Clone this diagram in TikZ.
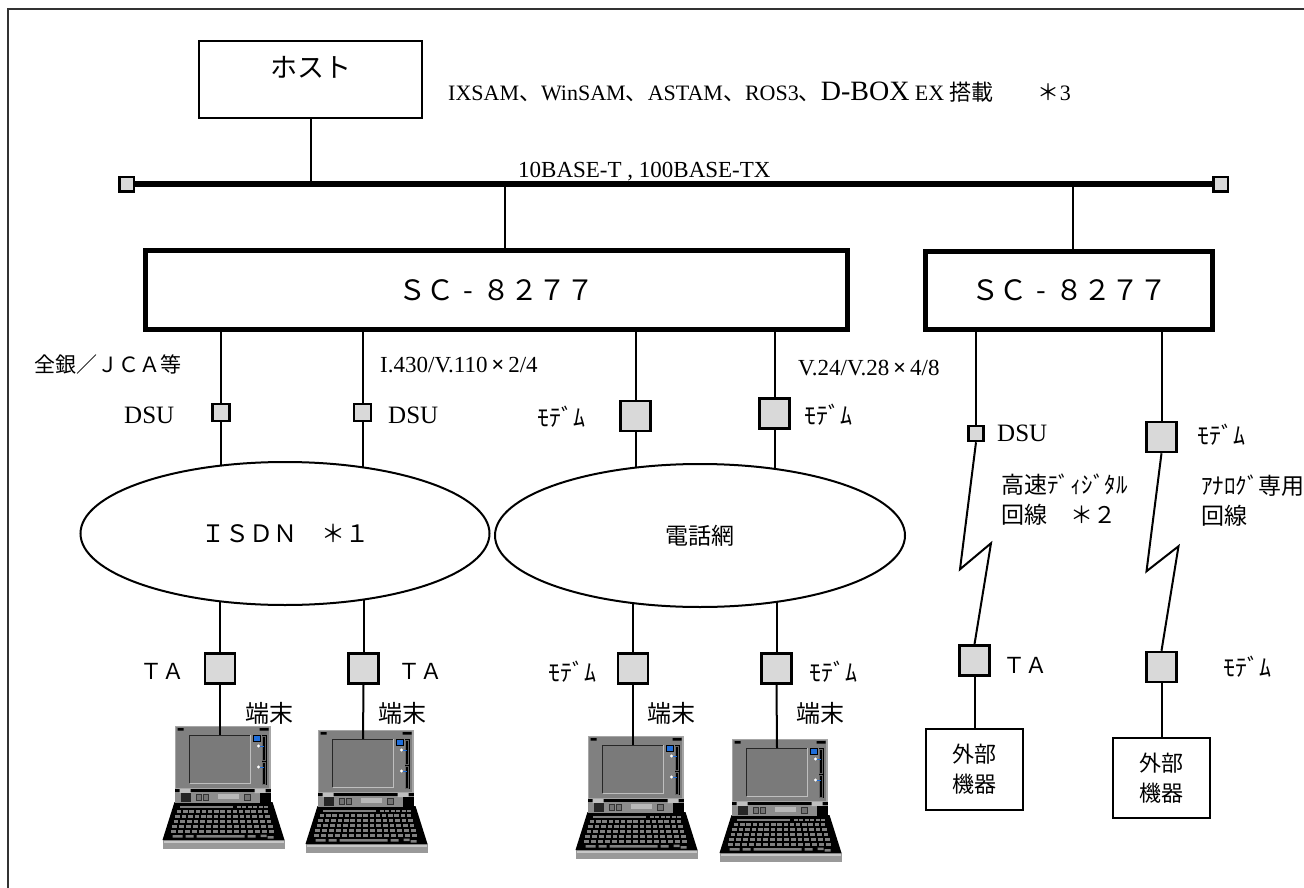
\documentclass[tikz,border=0pt]{standalone}
\usepackage{fontspec}
\setmainfont{Liberation Serif}
\newfontfamily\jfont{Noto Sans CJK JP}
\usetikzlibrary{positioning,shapes.geometric,backgrounds}
\newcommand{\jp}[1]{{\jfont #1}}
\definecolor{iconblue}{RGB}{30,110,220}

% laptop clip-art, origin at the top middle of the screen
\tikzset{
  laptop/.pic={
    \begin{scope}[shift={(-57.5,-9)}]
      % front edge
      \fill[black!40] (0,114) rectangle (122,123);
      \fill[black!22] (1,115) rectangle (121,117);
      % keyboard
      \fill[black] (12,76) -- (110,76) -- (122,114) -- (0,114) -- cycle;
      \fill[black!50] (17,79.5) rectangle (70,81.5);
      \foreach \k in {0,...,5}
        \fill[black!50] ({74+\k*5.5},79.5) rectangle +(4,2);
      \foreach \ky in {84,89,...,104} {
        \pgfmathsetmacro{\kl}{17-12*(\ky-76)/38}
        \pgfmathsetmacro{\kp}{(122-2*\kl)/15}
        \foreach \i in {0,...,14}
          \fill[black!50] ({\kl+\i*\kp},\ky) rectangle +({0.7*\kp},3);
      }
      \fill[black!50] (10,109) rectangle (20,111.5) (23,109) rectangle (31,111.5)
        (34,109) rectangle (82,111.5) (85,109) rectangle (93,111.5)
        (98,108.5) rectangle (104,111) (105,110) rectangle (111,112.5);
      % hinge
      \fill[black!45] (12,64) rectangle (108,77);
      \fill[black] (12,63) rectangle (108,66);
      \fill[black!25] (17,62) rectangle (28,67) (92,62) rectangle (103,67);
      \fill[black!85] (18,67) rectangle (28,76);
      \draw[black!80, fill=black!55] (34,68) rectangle (39,74) (41,68) rectangle (46,74)
        (82,68) rectangle (88,74);
      \fill[black!28] (55,68) rectangle (76,73);
      \fill[black] (97,67) rectangle (108,77);
      % lid
      \fill[black!50] (12,0) rectangle (108,63);
      \draw[black!35, line width=1.2pt] (12.6,0.6) rectangle (107.4,62.5);
      \fill[black] (15,2) rectangle (21,4.5) (97,2) rectangle (106,4.5);
      % screen
      \fill[black!52] (27,9) rectangle (88,57);
      \draw[black!85, line width=1pt] (27,57) -- (27,9) -- (88,9);
      \draw[black!25, line width=1pt] (88,9) -- (88,57) -- (27,57);
      % side controls
      \fill[black] (99,9) rectangle (104,59);
      \draw[black!60, line width=0.5pt] (100,10) rectangle (103,34) (100,36) rectangle (103,58);
      \draw[black, line width=0.6pt, fill=iconblue] (91,9) rectangle (98,15);
      \fill[white] (96,20) circle (1.6) (96,41) circle (1.6);
      \draw[iconblue, line width=0.8pt] (97.5,20) -- (101,20) (97.5,41) -- (101,41);
      \coordinate (-scr) at (57.5,9);
    \end{scope}
  }
}

\begin{document}
\begin{tikzpicture}[x=1pt, y=-1pt,
  every node/.style={inner sep=0pt},
  box/.style={draw, line width=2pt},
  scbox/.style={draw, line width=5pt, font=\jfont\fontsize{28}{30}\selectfont},
  port/.style={draw, fill=black!15, line width=2.5pt, minimum size=#1},
  cloud/.style={ellipse, draw, fill=white, line width=2pt},
  link/.style={line width=2pt},
  lbl/.style={anchor=west, font=\fontsize{22}{26}\selectfont},
  jlbl/.style={anchor=west, font=\jfont\fontsize{24}{30}\selectfont, align=left}]
\useasboundingbox (0,0) rectangle (1304,888);
\draw[line width=2pt, black!80] (8,888) -- (8,9) -- (1304,9);

% host and LAN
\node[box, minimum width=223, minimum height=77,
  label={[font=\jfont\fontsize{27}{30}\selectfont, anchor=center, yshift=-27pt]north:ホスト}]
  (host) at (310.5,79.5) {};
\node[lbl, anchor=base west] (soft) at (448,101)
  {IXSAM\jp{、}WinSAM\jp{、}ASTAM\jp{、}ROS3\jp{、}{\fontsize{28}{30}\selectfont D-BOX} EX \jp{搭載\hspace{2em}＊}3};
\node[port=14.5] (busl) at (126.5,184) {};
\node[port=14.5] (busr) at (1220.5,184) {};
\draw[line width=5.5pt] (busl) -- (busr);
\node[lbl, anchor=base west, font=\fontsize{23}{26}\selectfont] (lan) at (518,177) {10BASE-T , 100BASE-TX};
\coordinate (tap1) at (505,184);
\coordinate (tap2) at (1073,184);

% controllers
\node[scbox, minimum width=702, minimum height=79] (sc1) at (496.5,290) {ＳＣ\makebox[1em]{-}８２７７};
\node[scbox, minimum width=287, minimum height=78] (sc2) at (1069,290.5) {ＳＣ\makebox[1em]{-}８２７７};

% line units on the controller side
\node[port=17] (dsu1) at (221,412.5) {};
\node[port=17] (dsu2) at (362.5,412.5) {};
\node[port=30] (mdm1) at (635.5,416) {};
\node[port=30] (mdm2) at (774.5,413.5) {};
\node[port=15] (dsu3) at (976,433.5) {};
\node[port=30] (mdm3) at (1161.5,437) {};

\node[jlbl, font=\jfont\fontsize{21}{26}\selectfont] (zengin) at (34,365) {全銀／ＪＣＡ等};
\node[lbl, font=\fontsize{23}{26}\selectfont] (isdnif) at (380,365) {I.430/V.110\,{\bfseries ×}\,2/4};
\node[lbl, font=\fontsize{23}{26}\selectfont] (telif) at (798,368) {V.24/V.28\,{\bfseries ×}\,4/8};
\node[lbl, font=\fontsize{25}{26}\selectfont] (dsulbl1) at (124,415) {DSU};
\node[lbl, font=\fontsize{25}{26}\selectfont] (dsulbl2) at (388,415) {DSU};
\node[lbl, font=\fontsize{25}{26}\selectfont] (dsulbl3) at (997,433) {DSU};
\node[jlbl] (mdmlbl1) at (537,417) {ﾓﾃﾞﾑ};
\node[jlbl] (mdmlbl2) at (804,415) {ﾓﾃﾞﾑ};
\node[jlbl] (mdmlbl3) at (1197,435) {ﾓﾃﾞﾑ};
\node[jlbl, font=\jfont\fontsize{23}{30}\selectfont] (digital) at (1001,500) {高速ﾃﾞｨｼﾞﾀﾙ\\回線　＊２};
\node[jlbl, font=\jfont\fontsize{23}{30}\selectfont] (analog) at (1201,501) {ｱﾅﾛｸﾞ専用\\回線};

% networks
\node[cloud, minimum width=409, minimum height=143, font=\jfont\fontsize{24}{26}\selectfont]
  (isdn) at (285,533.5) {ＩＳＤＮ　＊１};
\node[cloud, minimum width=410, minimum height=143, font=\jfont\fontsize{23}{26}\selectfont]
  (tel) at (700,535.5) {電話網};

% terminal side
\node[port=30] (ta1) at (220,668.5) {};
\node[port=30] (ta2) at (363.5,668.5) {};
\node[port=30] (mdm4) at (633,668.5) {};
\node[port=30] (mdm5) at (776.5,668.5) {};
\node[port=30] (ta3) at (974.5,660.5) {};
\node[port=30] (mdm6) at (1161.5,667) {};

\node[jlbl, font=\jfont\fontsize{22}{26}\selectfont] (talbl1) at (140,671) {ＴＡ};
\node[jlbl, font=\jfont\fontsize{22}{26}\selectfont] (talbl2) at (398,671) {ＴＡ};
\node[jlbl, font=\jfont\fontsize{22}{26}\selectfont] (talbl3) at (1003,665) {ＴＡ};
\node[jlbl] (mdmlbl4) at (548,672) {ﾓﾃﾞﾑ};
\node[jlbl] (mdmlbl5) at (809,672) {ﾓﾃﾞﾑ};
\node[jlbl] (mdmlbl6) at (1223,667) {ﾓﾃﾞﾑ};
\node[jlbl] (term1) at (245,713) {端末};
\node[jlbl] (term2) at (378,713) {端末};
\node[jlbl] (term3) at (647,713) {端末};
\node[jlbl] (term4) at (796,713) {端末};

\node[box, minimum width=97, minimum height=81, align=center, font=\jfont\fontsize{22}{30}\selectfont]
  (ext1) at (974.5,769.5) {外部\\機器};
\node[box, minimum width=97, minimum height=80, align=center, font=\jfont\fontsize{22}{30}\selectfont]
  (ext2) at (1161.5,778) {外部\\機器};

\pic (pc1) at (220,735) {laptop};
\pic (pc2) at (363,739) {laptop};
\pic (pc3) at (633,745) {laptop};
\pic (pc4) at (777,748) {laptop};

% connectors
\begin{scope}[on background layer]
\draw[link] (host.south) -- (host.south |- busl.center);
\draw[link] (tap1) -- (tap1 |- sc1.north);
\draw[link] (tap2) -- (tap2 |- sc2.north);
\draw[link] (sc1.south -| dsu1) -- (dsu1.north);
\draw[link] (sc1.south -| dsu2) -- (dsu2.north);
\draw[link] (sc1.south -| mdm1) -- (mdm1.north);
\draw[link] (sc1.south -| mdm2) -- (mdm2.north);
\draw[link] (dsu1.south) -- (dsu1.south |- isdn.center);
\draw[link] (dsu2.south) -- (dsu2.south |- isdn.center);
\draw[link] (mdm1.south) -- (mdm1.south |- tel.center);
\draw[link] (mdm2.south) -- (mdm2.south |- tel.center);
\draw[link] (isdn.center -| ta1) -- (ta1.north);
\draw[link] (isdn.center -| ta2) -- (ta2.north);
\draw[link] (tel.center -| mdm4) -- (mdm4.north);
\draw[link] (tel.center -| mdm5) -- (mdm5.north);
\draw[link] (sc2.south -| dsu3) -- (dsu3.north);
\draw[link] (sc2.south -| mdm3) -- (mdm3.north);
\draw[link] (dsu3.south) -- ++(-16,127) -- ++(31,-26) -- (ta3.north);
\draw[link] (mdm3.south) -- ++(-15,118) -- ++(32,-25) -- (mdm6.north);
\draw[link] (ta3.south) -- (ext1.north);
\draw[link] (mdm6.south) -- (ext2.north);
\end{scope}
\draw[link] (ta1.south) -- (pc1-scr);
\draw[link] (ta2.south) -- (pc2-scr);
\draw[link] (mdm4.south) -- (pc3-scr);
\draw[link] (mdm5.south) -- (pc4-scr);
\end{tikzpicture}
\end{document}
